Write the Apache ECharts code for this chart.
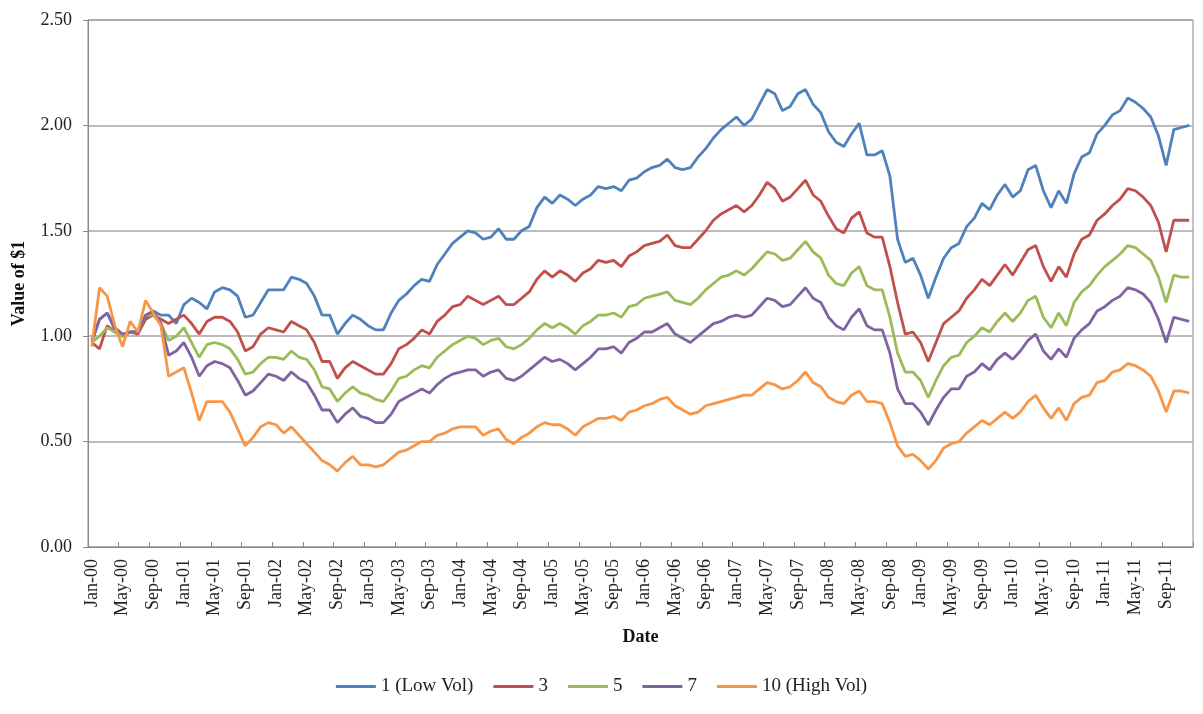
<!DOCTYPE html>
<html>
<head>
<meta charset="utf-8">
<script src="https://cdn.jsdelivr.net/npm/echarts@6/dist/echarts.min.js"></script>
<style>html,body{margin:0;padding:0;background:#fff;}#c{width:1203px;height:714px;}</style>
</head>
<body>
<div id="c"></div>
<script>
var monthNames = ['Jan','Feb','Mar','Apr','May','Jun','Jul','Aug','Sep','Oct','Nov','Dec'];
var years = ['00','01','02','03','04','05','06','07','08','09','10','11'];
var categories = [];
years.forEach(function (y) { monthNames.forEach(function (m) { categories.push(m + '-' + y); }); });

var yTicks = [0, 0.5, 1.0, 1.5, 2.0, 2.5];
var seriesNames = ['1 (Low Vol)', '3', '5', '7', '10 (High Vol)'];

var vol1 = [
 0.97,1.08,1.11,1.03,1.00,1.02,1.02,1.08,1.12,1.10,1.10,1.06,
 1.15,1.18,1.16,1.13,1.21,1.23,1.22,1.19,1.09,1.10,1.16,1.22,
 1.22,1.22,1.28,1.27,1.25,1.19,1.10,1.10,1.01,1.06,1.10,1.08,
 1.05,1.03,1.03,1.11,1.17,1.20,1.24,1.27,1.26,1.34,1.39,1.44,
 1.47,1.50,1.49,1.46,1.47,1.51,1.46,1.46,1.50,1.52,1.61,1.66,
 1.63,1.67,1.65,1.62,1.65,1.67,1.71,1.70,1.71,1.69,1.74,1.75,
 1.78,1.80,1.81,1.84,1.80,1.79,1.80,1.85,1.89,1.94,1.98,2.01,
 2.04,2.00,2.03,2.10,2.17,2.15,2.07,2.09,2.15,2.17,2.10,2.06,
 1.97,1.92,1.90,1.96,2.01,1.86,1.86,1.88,1.76,1.46,1.35,1.37,
 1.29,1.18,1.28,1.37,1.42,1.44,1.52,1.56,1.63,1.60,1.67,1.72,
 1.66,1.69,1.79,1.81,1.69,1.61,1.69,1.63,1.77,1.85,1.87,1.96,
 2.00,2.05,2.07,2.13,2.11,2.08,2.04,1.95,1.81,1.98,1.99,2.00
];
var vol3 = [
 0.97,0.94,1.05,1.02,1.00,1.02,1.01,1.08,1.10,1.08,1.06,1.08,
 1.10,1.06,1.01,1.07,1.09,1.09,1.07,1.02,0.93,0.95,1.01,1.04,
 1.03,1.02,1.07,1.05,1.03,0.97,0.88,0.88,0.80,0.85,0.88,0.86,
 0.84,0.82,0.82,0.87,0.94,0.96,0.99,1.03,1.01,1.07,1.10,1.14,
 1.15,1.19,1.17,1.15,1.17,1.19,1.15,1.15,1.18,1.21,1.27,1.31,
 1.28,1.31,1.29,1.26,1.30,1.32,1.36,1.35,1.36,1.33,1.38,1.40,
 1.43,1.44,1.45,1.48,1.43,1.42,1.42,1.46,1.50,1.55,1.58,1.60,
 1.62,1.59,1.62,1.67,1.73,1.70,1.64,1.66,1.70,1.74,1.67,1.64,
 1.57,1.51,1.49,1.56,1.59,1.49,1.47,1.47,1.33,1.16,1.01,1.02,
 0.97,0.88,0.97,1.06,1.09,1.12,1.18,1.22,1.27,1.24,1.29,1.34,
 1.29,1.35,1.41,1.43,1.33,1.26,1.33,1.28,1.39,1.46,1.48,1.55,
 1.58,1.62,1.65,1.70,1.69,1.66,1.62,1.54,1.40,1.55,1.55,1.55
];
var vol5 = [
 0.97,1.00,1.04,1.02,1.00,1.02,1.02,1.10,1.10,1.06,0.98,1.00,
 1.04,0.97,0.90,0.96,0.97,0.96,0.94,0.89,0.82,0.83,0.87,0.90,
 0.90,0.89,0.93,0.90,0.89,0.84,0.76,0.75,0.69,0.73,0.76,0.73,
 0.72,0.70,0.69,0.74,0.80,0.81,0.84,0.86,0.85,0.90,0.93,0.96,
 0.98,1.00,0.99,0.96,0.98,0.99,0.95,0.94,0.96,0.99,1.03,1.06,
 1.04,1.06,1.04,1.01,1.05,1.07,1.10,1.10,1.11,1.09,1.14,1.15,
 1.18,1.19,1.20,1.21,1.17,1.16,1.15,1.18,1.22,1.25,1.28,1.29,
 1.31,1.29,1.32,1.36,1.40,1.39,1.36,1.37,1.41,1.45,1.40,1.37,
 1.29,1.25,1.24,1.30,1.33,1.24,1.22,1.22,1.09,0.92,0.83,0.83,
 0.79,0.71,0.79,0.86,0.90,0.91,0.97,1.00,1.04,1.02,1.07,1.11,
 1.07,1.11,1.17,1.19,1.09,1.04,1.11,1.05,1.16,1.21,1.24,1.29,
 1.33,1.36,1.39,1.43,1.42,1.39,1.36,1.28,1.16,1.29,1.28,1.28
];
var vol7 = [
 0.98,1.08,1.11,1.04,1.01,1.02,1.02,1.10,1.12,1.06,0.91,0.93,
 0.97,0.90,0.81,0.86,0.88,0.87,0.85,0.79,0.72,0.74,0.78,0.82,
 0.81,0.79,0.83,0.80,0.78,0.72,0.65,0.65,0.59,0.63,0.66,0.62,
 0.61,0.59,0.59,0.63,0.69,0.71,0.73,0.75,0.73,0.77,0.80,0.82,
 0.83,0.84,0.84,0.81,0.83,0.84,0.80,0.79,0.81,0.84,0.87,0.90,
 0.88,0.89,0.87,0.84,0.87,0.90,0.94,0.94,0.95,0.92,0.97,0.99,
 1.02,1.02,1.04,1.06,1.01,0.99,0.97,1.00,1.03,1.06,1.07,1.09,
 1.10,1.09,1.10,1.14,1.18,1.17,1.14,1.15,1.19,1.23,1.18,1.16,
 1.09,1.05,1.03,1.09,1.13,1.05,1.03,1.03,0.92,0.75,0.68,0.68,
 0.64,0.58,0.65,0.71,0.75,0.75,0.81,0.83,0.87,0.84,0.89,0.92,
 0.89,0.93,0.98,1.01,0.93,0.89,0.94,0.90,0.99,1.03,1.06,1.12,
 1.14,1.17,1.19,1.23,1.22,1.20,1.16,1.08,0.97,1.09,1.08,1.07
];
var vol10 = [
 0.95,1.23,1.19,1.05,0.95,1.07,1.02,1.17,1.11,1.05,0.81,0.83,
 0.85,0.73,0.60,0.69,0.69,0.69,0.64,0.56,0.48,0.52,0.57,0.59,
 0.58,0.54,0.57,0.53,0.49,0.45,0.41,0.39,0.36,0.40,0.43,0.39,
 0.39,0.38,0.39,0.42,0.45,0.46,0.48,0.50,0.50,0.53,0.54,0.56,
 0.57,0.57,0.57,0.53,0.55,0.56,0.51,0.49,0.52,0.54,0.57,0.59,
 0.58,0.58,0.56,0.53,0.57,0.59,0.61,0.61,0.62,0.60,0.64,0.65,
 0.67,0.68,0.70,0.71,0.67,0.65,0.63,0.64,0.67,0.68,0.69,0.70,
 0.71,0.72,0.72,0.75,0.78,0.77,0.75,0.76,0.79,0.83,0.78,0.76,
 0.71,0.69,0.68,0.72,0.74,0.69,0.69,0.68,0.59,0.48,0.43,0.44,
 0.41,0.37,0.41,0.47,0.49,0.50,0.54,0.57,0.60,0.58,0.61,0.64,
 0.61,0.64,0.69,0.72,0.66,0.61,0.66,0.60,0.68,0.71,0.72,0.78,
 0.79,0.83,0.84,0.87,0.86,0.84,0.81,0.74,0.64,0.74,0.74,0.73
];

var colors = ['#4F81BD', '#C0504D', '#9BBB59', '#8064A2', '#F79646'];
var allData = [vol1, vol3, vol5, vol7, vol10];
var serif = '"Liberation Serif", "Times New Roman", serif';

var chart = echarts.init(document.getElementById('c'), null, {renderer: 'canvas'});
chart.setOption({
  animation: false,
  backgroundColor: '#ffffff',
  color: colors,
  grid: {left: 88, right: 10, top: 20, bottom: 167, containLabel: false,
         show: true, borderColor: '#8a8a8a', borderWidth: 1},
  legend: {
    bottom: 13, left: 'center', icon: 'rect', itemWidth: 40, itemHeight: 3, itemGap: 20,
    textStyle: {fontFamily: serif, fontSize: 19, color: '#222'},
    data: seriesNames
  },
  xAxis: {
    type: 'category', data: categories, boundaryGap: true,
    name: 'Date', nameLocation: 'middle', nameGap: 81,
    nameTextStyle: {fontFamily: serif, fontSize: 18, fontWeight: 'bold', color: '#111'},
    axisLine: {lineStyle: {color: '#8a8a8a', width: 1}},
    axisTick: {show: true, inside: true, length: 5, interval: 3, lineStyle: {color: '#8a8a8a'}},
    axisLabel: {interval: 3, rotate: 90, margin: 12, fontFamily: serif, fontSize: 18, color: '#222'},
    splitLine: {show: false}
  },
  yAxis: {
    type: 'value', min: yTicks[0], max: yTicks[yTicks.length - 1], interval: 0.5,
    name: 'Value of $1', nameLocation: 'middle', nameGap: 60, nameRotate: 90,
    nameTextStyle: {fontFamily: serif, fontSize: 18, fontWeight: 'bold', color: '#111'},
    axisLine: {show: true, lineStyle: {color: '#8a8a8a', width: 1}},
    axisTick: {show: true, length: 5, lineStyle: {color: '#8a8a8a'}},
    axisLabel: {margin: 16, fontFamily: serif, fontSize: 18, color: '#222',
                formatter: function (v) { return v.toFixed(2); }},
    splitLine: {show: true, lineStyle: {color: '#a6a6a6', width: 1.5}}
  },
  series: seriesNames.map(function (n, i) {
    return {
      name: n, type: 'line', data: allData[i], symbol: 'none', smooth: false,
      lineStyle: {width: 2.8, color: colors[i]}, itemStyle: {color: colors[i]}
    };
  })
});
</script>
</body>
</html>
